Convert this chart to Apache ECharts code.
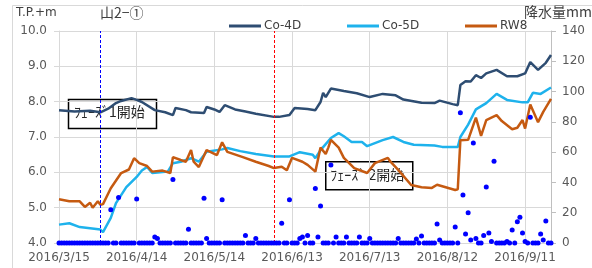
<!DOCTYPE html>
<html lang="ja">
<head>
<meta charset="utf-8">
<title>山2−① 水位と降水量</title>
<script src="https://cdn.jsdelivr.net/npm/echarts@6/dist/echarts.min.js"></script>
<style>
  html, body { margin: 0; padding: 0; background: #fff; }
  #chart { width: 592px; height: 268px; }
</style>
</head>
<body>
<div id="chart"></div>
<script>
// 起点日 2016/3/15 からの経過日数で持つ
var startDate = [2016, 2, 15];
var phase1Day = 16;   // フェーズ1開始 (青破線)
var phase2Day = 83;   // フェーズ2開始 (赤破線)

// Co-4D 水位 T.P.+m  [経過日, 値]
var co4d = [
  [0,7.76],[6,7.72],[12,7.74],[16,7.70],[19,7.80],[22,7.96],[24,8.02],[28,8.10],
  [30,8.05],[32,7.99],[37,7.76],[41,7.70],[44,7.62],[45,7.82],[49,7.76],[51,7.70],
  [56,7.68],[57,7.85],[60,7.78],[62,7.71],[64,7.90],[68,7.78],[72,7.72],[76,7.66],
  [83,7.57],[85,7.57],[89,7.62],[91,7.82],[96,7.79],[99,7.76],[101,7.99],[102,8.25],
  [103,8.13],[105,8.37],[110,8.30],[115,8.24],[120,8.13],[125,8.22],[130,8.18],
  [133,8.06],[140,7.97],[145,7.96],[147,8.03],[152,7.93],[154,7.90],[155,8.47],
  [157,8.58],[159,8.57],[161,8.75],[163,8.67],[165,8.80],[169,8.90],[173,8.72],
  [177,8.72],[180,8.80],[182,9.12],[185,8.90],[188,9.10],[190,9.32]
];

// Co-5D 水位 T.P.+m
var co5d = [
  [0,4.52],[4,4.56],[8,4.45],[12,4.42],[16,4.38],[17,4.31],[20,4.71],[22,5.13],
  [26,5.58],[30,5.87],[32,6.05],[34,6.15],[36,5.98],[42,6.02],[44,6.26],[47,6.30],
  [51,6.40],[54,6.30],[57,6.58],[63,6.65],[65,6.69],[70,6.60],[76,6.52],[83,6.45],
  [89,6.45],[93,6.57],[98,6.50],[99,6.40],[101,6.63],[105,6.97],[108,7.11],[110,7.02],
  [113,6.86],[117,6.86],[119,6.74],[125,6.91],[129,7.00],[133,6.86],[137,6.78],
  [145,6.76],[148,6.72],[154,6.72],[155,7.00],[158,7.35],[161,7.78],[165,7.96],
  [169,8.22],[173,8.05],[179,7.98],[181,7.98],[183,8.25],[186,8.22],[190,8.40]
];

// RW8 水位 T.P.+m
var rw8 = [
  [0,5.24],[4,5.18],[8,5.18],[10,5.02],[12,5.14],[13,5.00],[15,5.18],[16,5.08],
  [17,5.10],[20,5.55],[24,5.98],[27,6.08],[29,6.40],[31,6.26],[34,6.18],[36,6.02],
  [40,6.05],[43,5.98],[44,6.43],[47,6.35],[49,6.30],[51,6.63],[52,6.30],[54,6.15],
  [57,6.63],[61,6.49],[63,6.85],[65,6.58],[71,6.43],[76,6.30],[81,6.18],[83,6.12],
  [86,6.16],[88,6.06],[90,6.41],[94,6.30],[96,6.21],[99,6.02],[101,6.70],[103,6.52],
  [104,6.70],[105,6.92],[108,6.70],[110,6.41],[114,6.12],[119,5.98],[122,6.26],
  [127,6.41],[128,6.30],[131,6.07],[136,5.64],[140,5.58],[144,5.56],[146,5.65],
  [153,5.50],[154,5.52],[155,6.91],[158,6.92],[161,7.55],[163,7.03],[165,7.48],
  [169,7.62],[171,7.45],[175,7.22],[177,7.26],[179,7.48],[180,7.24],[182,7.92],
  [185,7.42],[187,7.71],[190,8.08]
];

// 日降水量 mm (3/15 から毎日)
var rainMm = [
  0,0,0,0,0,0,0,0,0,0,
  0,0,0,0,0,0,0,0,0,0,
  22,0,0,30,0,0,0,0,0,0,
  29,0,0,0,0,0,0,4,3,0,
  0,0,0,0,42,0,0,0,0,0,
  9,0,0,0,0,0,29.5,3,0,0,
  0,0,0,28.5,0,0,0,0,0,0,
  0,0,5,0,0,0,3,0,0,0,
  0,0,0,0,0,0,13,0,0,28.5,
  0,0,0,3,4,0,5,0,0,36,
  4,24.5,0,0,0,51.5,0,4,0,0,
  0,4,0,0,0,0,4,0,0,0,
  3,0,0,0,0,0,0,0,0,0,
  0,3,0,0,0,0,0,0,2.6,0,
  4.6,0,0,0,0,0,12.5,2,0,0,
  0,0,0,10.5,0,86,31.7,6,20,2,
  66,3,0,0,5,37,6.6,1,54,0,
  0,0,0,1,0,8.6,0,14,17,6.6,
  1,0,83,0,0,0,6,2,14.5,0,
  0
];

var numFont = 'DejaVu Sans';
var jpFont = 'Noto Sans CJK JP';

function dayLabel(d) {
  var dt = new Date(startDate[0], startDate[1], startDate[2] + d);
  return dt.getFullYear() + '/' + (dt.getMonth() + 1) + '/' + dt.getDate();
}

var chart = echarts.init(document.getElementById('chart'));

var legendBase = {
  top: 15,
  icon: 'rect',
  itemWidth: 32,
  itemHeight: 3,
  itemGap: 4,
  textStyle: { fontFamily: numFont, fontSize: 12, color: '#404040', padding: [0, 0, 0, -2] }
};

var option = {
  backgroundColor: '#fff',
  animation: false,
  grid: { left: 59, right: 41, top: 31, bottom: 25, containLabel: false },
  legend: [
    Object.assign({ left: 224, data: ['Co-4D'] }, legendBase),
    Object.assign({ left: 342, data: ['Co-5D'] }, legendBase),
    Object.assign({ left: 460, data: ['RW8'] }, legendBase)
  ],
  xAxis: {
    type: 'value',
    min: 0,
    max: 190,
    interval: 30,
    axisLine: { show: true, onZero: false, lineStyle: { color: '#D9D9D9', width: 1 } },
    axisTick: { show: false },
    splitLine: { show: true, lineStyle: { color: '#D9D9D9', width: 1 } },
    axisLabel: {
      showMaxLabel: false,
      margin: 9,
      fontFamily: numFont,
      fontSize: 12,
      color: '#595959',
      formatter: function (v) { return dayLabel(v); }
    }
  },
  yAxis: [
    {
      type: 'value',
      min: 4,
      max: 10,
      interval: 1,
      axisLine: { show: true, lineStyle: { color: '#D9D9D9' } },
      axisTick: { show: true, length: 5, lineStyle: { color: '#D9D9D9' } },
      splitLine: { show: true, lineStyle: { color: '#D9D9D9', width: 1 } },
      axisLabel: {
        margin: 12,
        fontFamily: numFont,
        fontSize: 12,
        color: '#595959',
        formatter: function (v) { return v.toFixed(1); }
      }
    },
    {
      type: 'value',
      position: 'right',
      min: 0,
      max: 140,
      interval: 20,
      axisLine: { show: true, lineStyle: { color: '#BFBFBF' } },
      axisTick: { show: true, length: 5, lineStyle: { color: '#BFBFBF' } },
      splitLine: { show: false },
      axisLabel: { margin: 11, fontFamily: numFont, fontSize: 12, color: '#595959' }
    }
  ],
  graphic: [
    { type: 'rect', z: 0, silent: true,
      shape: { x: 12.5, y: 5.5, width: 620, height: 300 },
      style: { fill: 'none', stroke: '#D9D9D9', lineWidth: 1 } },
    { type: 'text', left: 16, top: 7, z: 10,
      style: { text: 'T.P.+m', fontFamily: numFont, fontSize: 12, fill: '#404040' } },
    { type: 'text', left: 100, top: 6, z: 10,
      style: { text: '山2−①', fontFamily: jpFont, fontSize: 14, fill: '#404040' } },
    { type: 'text', left: 524, top: 5, z: 10,
      style: { text: '降水量mm', fontFamily: jpFont, fontSize: 14, fill: '#404040' } },
    { type: 'group', left: 66, top: 97, z: 1,
      children: [
        { type: 'rect', shape: { x: 0.5, y: 0.5, width: 88, height: 29 },
          style: { fill: 'none', stroke: '#000', lineWidth: 1.5 } },
        { type: 'text', x: 6, y: 6,
          style: { text: 'ﾌｪｰｽﾞ1開始', fontFamily: jpFont, fontSize: 14, fill: '#262626' } }
      ] },
    { type: 'group', left: 325, top: 161, z: 5,
      children: [
        { type: 'rect', shape: { x: 0.5, y: 0.5, width: 87, height: 28 },
          style: { fill: '#fff', stroke: '#000', lineWidth: 1.5 } },
        { type: 'text', x: 5, y: 6,
          style: { text: 'ﾌｪｰｽﾞ 2開始', fontFamily: jpFont, fontSize: 14, fill: '#262626' } }
      ] }
  ],
  series: [
    {
      name: 'Co-4D', type: 'line', z: 3,
      data: co4d, showSymbol: false, symbol: 'none',
      lineStyle: { width: 2.5, color: '#2E4D72' }, itemStyle: { color: '#2E4D72' },
      markLine: {
        silent: true, symbol: 'none', label: { show: false },
        data: [
          { xAxis: phase1Day, lineStyle: { color: '#0000FF', type: [3, 2], width: 1 } },
          { xAxis: phase2Day, lineStyle: { color: '#FF0000', type: [3, 2], width: 1 } }
        ]
      }
    },
    {
      name: 'Co-5D', type: 'line', z: 3,
      data: co5d, showSymbol: false, symbol: 'none',
      lineStyle: { width: 2.5, color: '#1EB2EC' }, itemStyle: { color: '#1EB2EC' }
    },
    {
      name: 'RW8', type: 'line', z: 3,
      data: rw8, showSymbol: false, symbol: 'none',
      lineStyle: { width: 2.5, color: '#C55A11' }, itemStyle: { color: '#C55A11' }
    },
    {
      name: '降水量', type: 'scatter', yAxisIndex: 1, z: 6,
      symbolSize: 5,
      itemStyle: { color: '#0000FF', opacity: 1, borderWidth: 0 },
      data: rainMm.map(function (v, i) { return [i, v]; })
    }
  ]
};

chart.setOption(option);
</script>
</body>
</html>
